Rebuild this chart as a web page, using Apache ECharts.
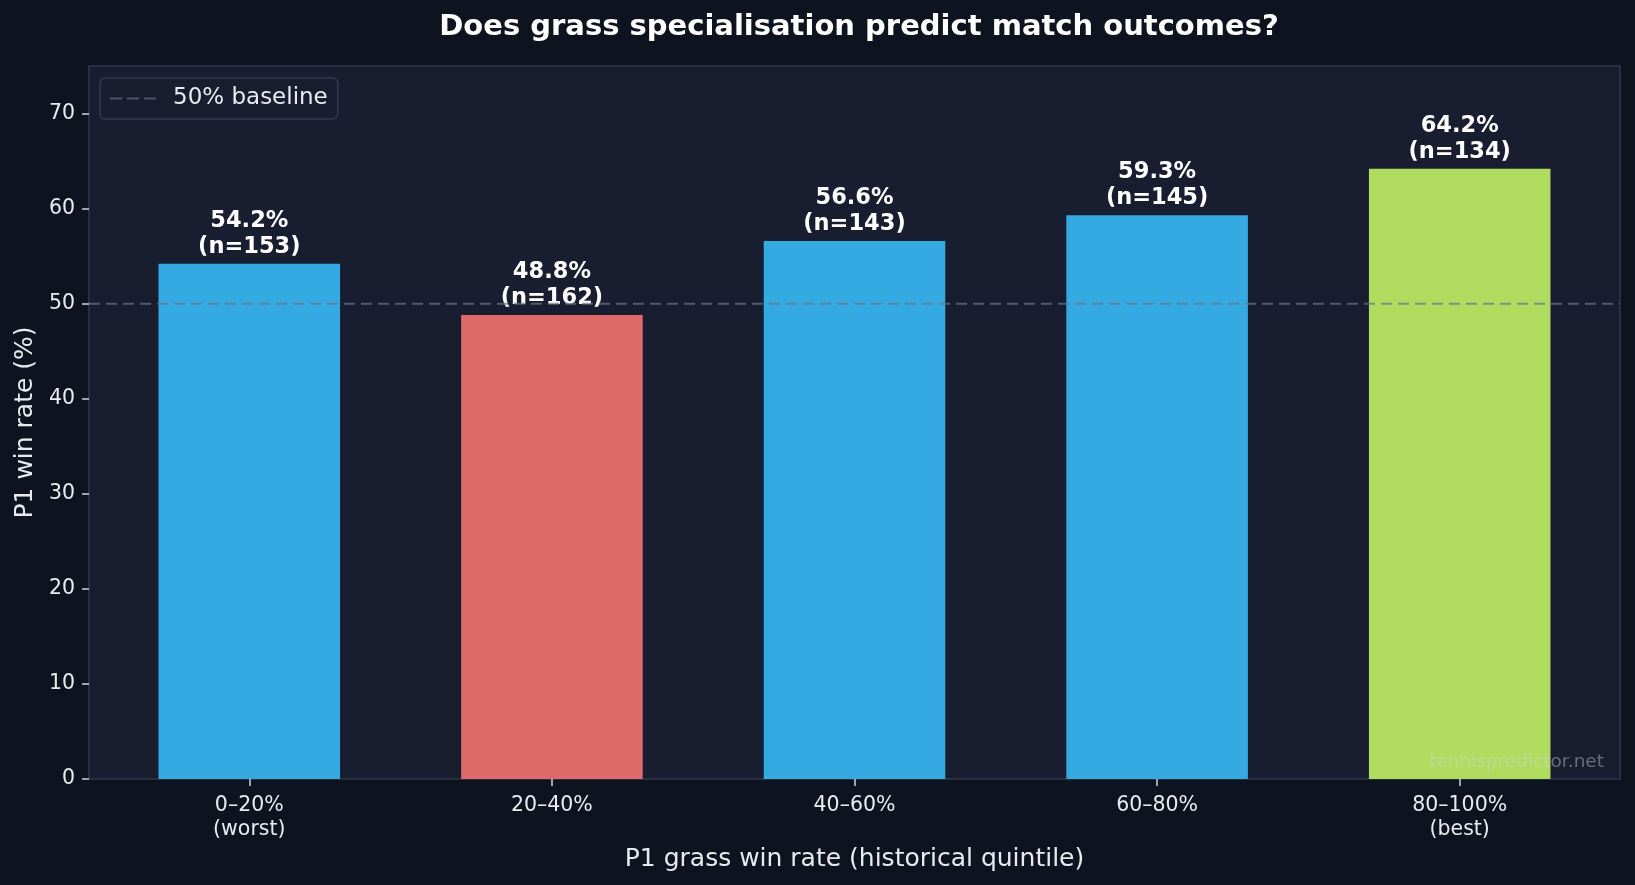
<!DOCTYPE html>
<html>
<head>
<meta charset="utf-8">
<script src="https://cdn.jsdelivr.net/npm/echarts@6/dist/echarts.min.js"></script>
<style>
  html, body { margin: 0; padding: 0; background: #0e1320; }
  #chart { width: 1635px; height: 885px; }
</style>
</head>
<body>
<div id="chart"></div>
<script>
// data
const categories = ['0–20%\n(worst)', '20–40%', '40–60%', '60–80%', '80–100%\n(best)']
const winRates = [54.2, 48.8, 56.6, 59.3, 64.2]
const sampleSizes = [153, 162, 143, 145, 134]
const barColors = ['#35aae2', '#e06a6a', '#35aae2', '#35aae2', '#afdc5f']
const yTicks = [0, 10, 20, 30, 40, 50, 60, 70]
const baseline = 50

const chart = echarts.init(document.getElementById('chart'))
const font = 'DejaVu Sans'
const dashColor = 'rgba(100,116,139,0.7)'
const textColor = '#e8eaee'

const option = {
  backgroundColor: '#0e1320',
  textStyle: { fontFamily: font },
  title: {
    text: 'Does grass specialisation predict match outcomes?',
    left: 854,
    textAlign: 'center',
    top: 8,
    textStyle: { color: '#ffffff', fontSize: 29, fontWeight: 'bold', fontFamily: font }
  },
  legend: {
    left: 100,
    top: 78,
    padding: [9, 10, 9, 10],
    backgroundColor: '#181e2f',
    borderColor: '#2f3a4c',
    borderWidth: 1.5,
    borderRadius: 5,
    itemWidth: 46,
    itemHeight: 3,
    textStyle: { color: textColor, fontSize: 23, fontFamily: font, padding: [0, 0, 0, 12] },
    data: [{
      name: '50% baseline',
      icon: 'path://M0,0h12v2h-12z M17,0h12v2h-12z M34,0h12v2h-12z',
      itemStyle: { color: '#4b5769' }
    }]
  },
  // grid 0 = the whole plot frame, grid 1 = the bars (inset like matplotlib's x margins)
  grid: [
    {
      left: 89, right: 15, top: 66, bottom: 106,
      show: true,
      backgroundColor: '#181e2f',
      borderColor: '#2f3a4c',
      borderWidth: 1.5
    },
    { left: 98, right: 24, top: 66, bottom: 106 }
  ],
  xAxis: [
    { type: 'value', gridIndex: 0, min: 0, max: 1, show: false },
    {
      type: 'category',
      gridIndex: 1,
      data: categories,
      name: 'P1 grass win rate (historical quintile)',
      nameLocation: 'middle',
      nameGap: 67,
      nameTextStyle: { color: textColor, fontSize: 25, fontFamily: font },
      axisLine: { show: false },
      axisTick: { show: true, alignWithLabel: true, length: 7, lineStyle: { color: '#d0d4da', width: 1.5 } },
      axisLabel: { color: textColor, fontSize: 20.5, lineHeight: 24, margin: 15, fontFamily: font },
      splitLine: { show: false }
    }
  ],
  yAxis: [
    {
      type: 'value',
      gridIndex: 0,
      min: 0,
      max: 75,
      interval: 10,
      name: 'P1 win rate (%)',
      nameLocation: 'middle',
      nameGap: 46,
      nameRotate: 90,
      nameTextStyle: { color: textColor, fontSize: 25, fontFamily: font },
      axisLine: { show: false },
      axisTick: { show: true, length: 7, customValues: yTicks, lineStyle: { color: '#d0d4da', width: 1.5 } },
      axisLabel: { color: textColor, fontSize: 20.5, margin: 14, fontFamily: font, customValues: yTicks },
      splitLine: { show: false }
    },
    { type: 'value', gridIndex: 1, min: 0, max: 75, show: false }
  ],
  series: [
    {
      type: 'bar',
      name: 'win rate',
      xAxisIndex: 1,
      yAxisIndex: 1,
      data: winRates.map((v, i) => ({ value: v, itemStyle: { color: barColors[i] } })),
      barWidth: '60%',
      label: {
        show: true,
        position: 'top',
        distance: 4,
        color: '#ffffff',
        fontWeight: 'bold',
        fontSize: 22.5,
        lineHeight: 26,
        fontFamily: font,
        formatter: p => p.value.toFixed(1) + '%\n(n=' + sampleSizes[p.dataIndex] + ')'
      },
      z: 2
    },
    {
      type: 'line',
      name: '50% baseline',
      xAxisIndex: 0,
      yAxisIndex: 0,
      data: [[0, baseline], [1, baseline]],
      showSymbol: false,
      silent: true,
      lineStyle: { color: dashColor, type: [11, 6], width: 2 },
      z: 3
    }
  ],
  graphic: [{
    type: 'text',
    right: 31,
    top: 753,
    style: {
      text: 'tennispredictor.net',
      fill: 'rgba(210,215,225,0.42)',
      fontSize: 18.5,
      fontFamily: font
    },
    z: 10
  }]
}

chart.setOption(option)
</script>
</body>
</html>
